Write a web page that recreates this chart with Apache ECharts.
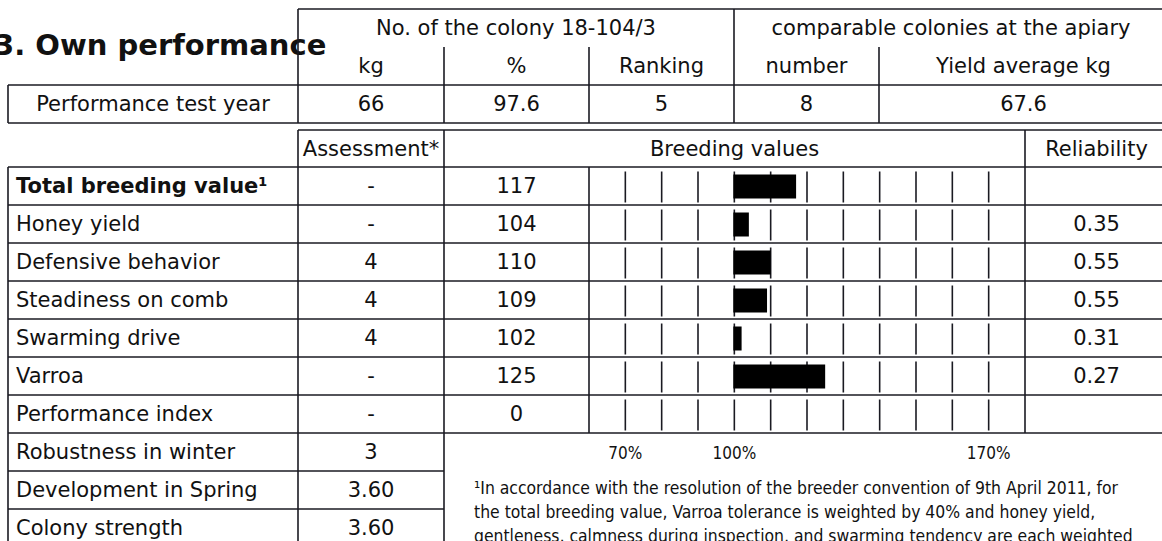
<!DOCTYPE html>
<html>
<head>
<meta charset="utf-8">
<script src="https://cdn.jsdelivr.net/npm/echarts@6/dist/echarts.min.js"></script>
<style>
html,body{margin:0;padding:0;background:#fff;}
#chart{width:1162px;height:541px;}
</style>
</head>
<body>
<div id="chart"></div>
<script>
// ---------- data ----------
const titleText = '3. Own performance';
const colonyHeader = 'No. of the colony 18-104/3';
const apiaryHeader = 'comparable colonies at the apiary';
const perfSubHeaders = ['kg', '%', 'Ranking', 'number', 'Yield average kg'];
const perfRowLabel = 'Performance test year';
const perfValues = ['66', '97.6', '5', '8', '67.6'];

const tableHeaders = ['Assessment*', 'Breeding values', 'Reliability'];
const traits = ['Total breeding value\u00b9', 'Honey yield', 'Defensive behavior', 'Steadiness on comb', 'Swarming drive', 'Varroa', 'Performance index'];
const assessments = ['-', '-', '4', '4', '4', '-', '-'];
const breedingValues = [117, 104, 110, 109, 102, 125, 0];
const reliability = ['', '0.35', '0.55', '0.55', '0.31', '0.27', ''];

const extraTraits = ['Robustness in winter', 'Development in Spring', 'Colony strength'];
const extraAssessments = ['3', '3.60', '3.60'];

const tickValues = [70, 80, 90, 100, 110, 120, 130, 140, 150, 160, 170];
const labelledTicks = [70, 100, 170];
const BASE = 100;

const footnoteLines = [
  '\u00b9In accordance with the resolution of the breeder convention of 9th April 2011, for',
  'the total breeding value, Varroa tolerance is weighted by 40% and honey yield,',
  'gentleness, calmness during inspection, and swarming tendency are each weighted'
];

// ---------- layout ----------
const FONT = '"DejaVu Sans", sans-serif';
const CFONT = '"DejaVu Sans Condensed", "DejaVu Sans", sans-serif';
const LINE = '#1a1a22';
const LW = 1.6;
const FS = 21;
const X = {l: 8, a: 298, v: 444, b: 589, r: 1025, e: 1168};
const ROW_TOP = 167, ROW_H = 38;
const TOP = {y0: 9, y1: 47, y2: 85, y3: 123};
const HDR_Y0 = 130;

const g = [];
function line(x1, y1, x2, y2) {
  g.push({type: 'line', silent: true, shape: {x1, y1, x2, y2}, style: {stroke: LINE, lineWidth: LW}});
}
function text(t, x, y, opt) {
  opt = opt || {};
  g.push({type: 'text', silent: true, x: x, y: y, style: {
    text: t, fill: '#111',
    font: (opt.bold ? 'bold ' : '') + (opt.size || FS) + 'px ' + (opt.family || FONT),
    align: opt.align || 'center', textAlign: opt.align || 'center',
    verticalAlign: 'middle', textVerticalAlign: 'middle'
  }});
}
const mid = (a, b) => (a + b) / 2;

// title
text(titleText, -6, 45, {bold: true, size: 29, align: 'left'});

// top table lines
line(X.a, TOP.y0, X.e, TOP.y0);
line(X.l, TOP.y2, X.e, TOP.y2);
line(X.l, TOP.y3, X.e, TOP.y3);
line(X.l, TOP.y2, X.l, TOP.y3);
line(X.a, TOP.y0, X.a, TOP.y3);
line(X.v, TOP.y1, X.v, TOP.y3);
line(X.b, TOP.y1, X.b, TOP.y3);
line(734, TOP.y0, 734, TOP.y3);
line(879, TOP.y1, 879, TOP.y3);
const topCols = [[X.a, X.v], [X.v, X.b], [X.b, 734], [734, 879], [879, X.e]];
text(colonyHeader, mid(X.a, 734), mid(TOP.y0, TOP.y1));
text(apiaryHeader, mid(734, X.e), mid(TOP.y0, TOP.y1));
perfSubHeaders.forEach((h, i) => text(h, mid(topCols[i][0], topCols[i][1]), mid(TOP.y1, TOP.y2)));
text(perfRowLabel, mid(X.l, X.a), mid(TOP.y2, TOP.y3));
perfValues.forEach((v, i) => text(v, mid(topCols[i][0], topCols[i][1]), mid(TOP.y2, TOP.y3)));

// second table
const nRows = traits.length;
const gridBottom = ROW_TOP + nRows * ROW_H;
const tableBottom = gridBottom + extraTraits.length * ROW_H;
line(X.a, HDR_Y0, X.e, HDR_Y0);
line(X.a, HDR_Y0, X.a, tableBottom);
line(X.v, HDR_Y0, X.v, tableBottom);
line(X.r, HDR_Y0, X.r, gridBottom);
line(X.b, ROW_TOP, X.b, gridBottom);
line(X.l, ROW_TOP, X.l, tableBottom);
for (let k = 0; k <= nRows; k++) line(X.l, ROW_TOP + k * ROW_H, X.e, ROW_TOP + k * ROW_H);
for (let k = 1; k <= extraTraits.length; k++) line(X.l, gridBottom + k * ROW_H, X.v, gridBottom + k * ROW_H);

text(tableHeaders[0], mid(X.a, X.v), mid(HDR_Y0, ROW_TOP));
text(tableHeaders[1], mid(X.v, X.r), mid(HDR_Y0, ROW_TOP));
text(tableHeaders[2], mid(X.r, X.e), mid(HDR_Y0, ROW_TOP));
traits.forEach((t, i) => {
  const cy = ROW_TOP + (i + 0.5) * ROW_H;
  text(t, 16, cy, {align: 'left', bold: i === 0});
  text(assessments[i], mid(X.a, X.v), cy);
  text(String(breedingValues[i]), mid(X.v, X.b), cy);
  if (reliability[i]) text(reliability[i], mid(X.r, X.e), cy);
});
extraTraits.forEach((t, i) => {
  const cy = gridBottom + (i + 0.5) * ROW_H;
  text(t, 16, cy, {align: 'left'});
  text(extraAssessments[i], mid(X.a, X.v), cy);
});
footnoteLines.forEach((t, i) => text(t, 474, 488 + i * 24, {align: 'left', size: 17.4, family: CFONT}));

// ---------- chart ----------
const chart = echarts.init(document.getElementById('chart'), null, {renderer: 'svg'});
const tickData = [];
traits.forEach((_, i) => tickValues.forEach(t => tickData.push([t, i])));

chart.setOption({
  animation: false,
  backgroundColor: '#fff',
  grid: {left: X.b, top: ROW_TOP, width: X.r - X.b, height: gridBottom - ROW_TOP, containLabel: false},
  xAxis: {
    type: 'value', min: 60, max: 180, interval: 10,
    axisLine: {show: false}, axisTick: {show: false}, splitLine: {show: false},
    axisLabel: {
      margin: 11, fontSize: 17, fontFamily: CFONT, color: '#111',
      formatter: v => labelledTicks.indexOf(v) >= 0 ? v + '%' : ''
    }
  },
  yAxis: {
    type: 'category', data: traits, inverse: true,
    axisLine: {show: false}, axisTick: {show: false}, axisLabel: {show: false}, splitLine: {show: false}
  },
  series: [
    {
      name: 'ticks', type: 'custom', data: tickData, encode: {x: 0, y: 1}, silent: true,
      renderItem: (params, api) => {
        const p = api.coord([api.value(0), api.value(1)]);
        return {type: 'line', shape: {x1: p[0], y1: p[1] - 14.5, x2: p[0], y2: p[1] + 16.5},
          style: {stroke: LINE, lineWidth: 1.6}};
      }
    },
    {
      name: 'Breeding values', type: 'custom', encode: {x: 0, y: 1},
      data: breedingValues.map((v, i) => [v, i]),
      renderItem: (params, api) => {
        const v = api.value(0);
        if (!v) return null;
        const p0 = api.coord([BASE, api.value(1)]);
        const p1 = api.coord([v, api.value(1)]);
        return {type: 'rect', shape: {x: p0[0] - 1, y: p0[1] - 11.5, width: p1[0] - p0[0] + 1, height: 24},
          style: {fill: '#000'}};
      }
    }
  ],
  graphic: g
});
</script>
</body>
</html>
